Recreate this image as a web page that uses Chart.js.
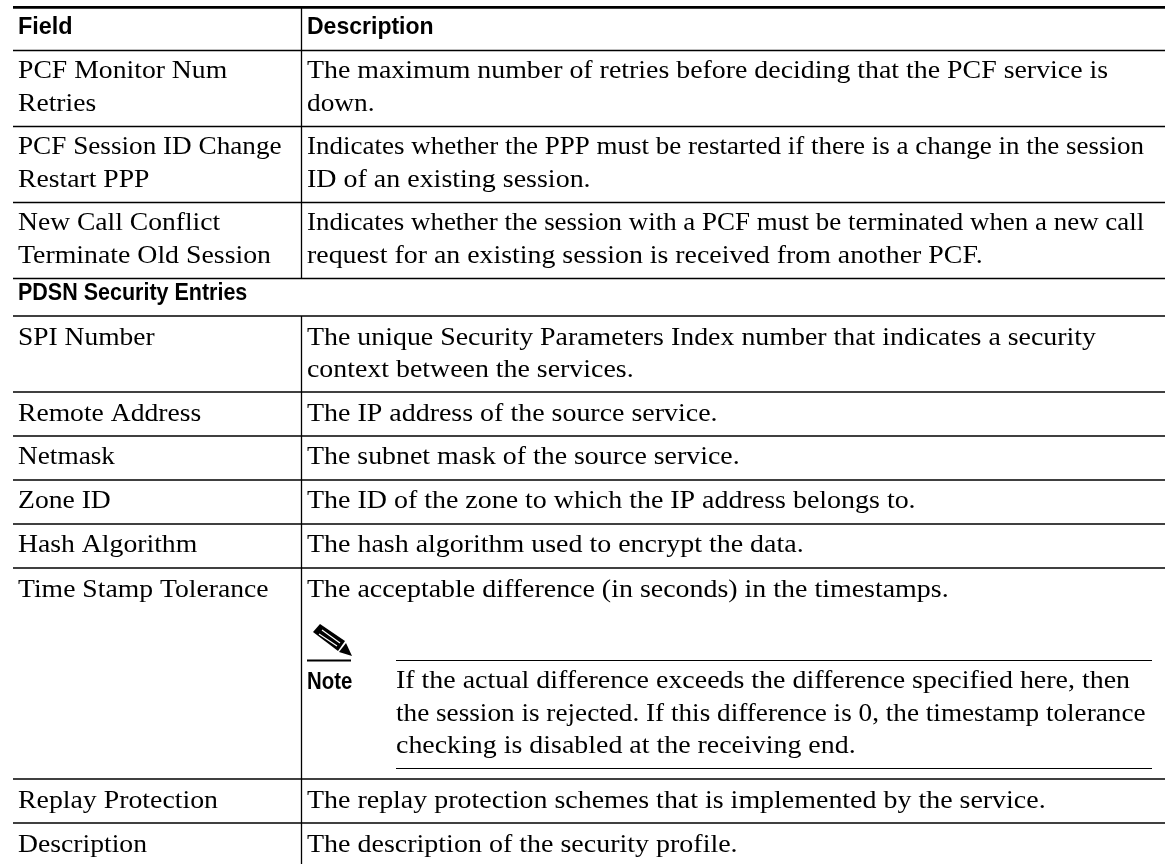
<!DOCTYPE html>
<html><head><meta charset="utf-8">
<style>html,body{margin:0;padding:0;background:#fff}canvas{display:block}</style>
<script src="https://cdn.jsdelivr.net/npm/chart.js@4"></script>
</head><body><canvas id="c" width="1166" height="864"></canvas>
<script>
const headerLabels = ["Field", "Description"];
const sectionLabels = ["PDSN Security Entries"];
const noteLabels = ["Note"];
const fieldLines = ["PCF Monitor Num","Retries","PCF Session ID Change","Restart PPP","New Call Conflict","Terminate Old Session","SPI Number","Remote Address","Netmask","Zone ID","Hash Algorithm","Time Stamp Tolerance","Replay Protection","Description"];
const descriptionLines = ["The maximum number of retries before deciding that the PCF service is","down.","Indicates whether the PPP must be restarted if there is a change in the session","ID of an existing session.","Indicates whether the session with a PCF must be terminated when a new call","request for an existing session is received from another PCF.","The unique Security Parameters Index number that indicates a security","context between the services.","The IP address of the source service.","The subnet mask of the source service.","The ID of the zone to which the IP address belongs to.","The hash algorithm used to encrypt the data.","The acceptable difference (in seconds) in the timestamps.","The replay protection schemes that is implemented by the service.","The description of the security profile."];
const noteLines = ["If the actual difference exceeds the difference specified here, then","the session is rejected. If this difference is 0, the timestamp tolerance","checking is disabled at the receiving end."];

// layout, in page units
const fieldBaselines = [78,111,154,187,230,263,345,421,464,508,552,597,808,852];
const fieldRights = [227,96,281,149,221,271,155,201,115,110,197,268,218,147];
const descriptionBaselines = [78,111,154,187,230,263,345,377,421,464,508,552,597,808,852];
const descriptionRights = [1108,373,1144,589,1144,981,1096,632,716,738,914,802,947,1044,736];
const noteBaselines = [688,721,753];
const noteRights = [1130,1145,854];
const rowRules = [50.5,126.5,202.5,278.5,316,392,436,480,524,568,779,823];
const L=13,R=1165,CX=301.5;
const lineSegs = [
  [[L,7.3],[R,7.3],2.8],
  ...rowRules.map(y=>[[L,y],[R,y],1.3]),
  [[CX,7],[CX,279],1.3],[[CX,316],[CX,864],1.3],
  [[396,660.5],[1152,660.5],1.2],[[396,768.5],[1152,768.5],1.2],
  [[307,660.5],[351,660.5],2]
];
const textPlugin={id:'tableText',afterDatasetsDraw(ch){
  const c=ch.ctx,xs=ch.scales.x,ys=ch.scales.y;
  const px=v=>xs.getPixelForValue(v),py=v=>ys.getPixelForValue(v);
  c.save();c.fillStyle='#000';c.textBaseline='alphabetic';c.textAlign='left';
  const fit=(t,x,y,right,font)=>{
    c.font=font;
    const m=c.measureText(t), k=(px(right)-px(x))/m.actualBoundingBoxRight;
    c.save();c.translate(px(x),py(y));c.scale(k,1);c.fillText(t,0,0);c.restore();
  };
  const SERIF='26px "Liberation Serif"', BOLD='bold 24px "Liberation Sans"';
  fieldLines.forEach((t,i)=>fit(t,18,fieldBaselines[i],fieldRights[i],SERIF));
  descriptionLines.forEach((t,i)=>fit(t,307,descriptionBaselines[i],descriptionRights[i],SERIF));
  noteLines.forEach((t,i)=>fit(t,396,noteBaselines[i],noteRights[i],SERIF));
  fit(headerLabels[0],18,34,72,BOLD);fit(headerLabels[1],307,34,433,BOLD);
  fit(sectionLabels[0],18,300,247,BOLD);fit(noteLabels[0],307,689,352,BOLD);
  // pencil icon
  const poly=(pts,col)=>{c.fillStyle=col;c.beginPath();pts.forEach((p,i)=>i?c.lineTo(px(p[0]),py(p[1])):c.moveTo(px(p[0]),py(p[1])));c.closePath();c.fill();};
  poly([[313,632],[320,624],[345,641],[338,651]],'#000');
  poly([[346,643],[339,652],[352,656]],'#000');
  c.strokeStyle='#fff';c.lineWidth=1.2;
  [[[322,630],[340,643]],[[319,634],[337,646]]].forEach(s=>{c.beginPath();c.moveTo(px(s[0][0]),py(s[0][1]));c.lineTo(px(s[1][0]),py(s[1][1]));c.stroke();});
  c.restore();
}};
new Chart(document.getElementById('c'),{type:'scatter',
  data:{datasets:lineSegs.map(s=>({data:[{x:s[0][0],y:s[0][1]},{x:s[1][0],y:s[1][1]}],showLine:true,borderColor:'#000',borderWidth:s[2],pointRadius:0,tension:0}))},
  options:{responsive:false,animation:false,events:[],layout:{padding:0},
    plugins:{legend:{display:false},tooltip:{enabled:false},title:{display:false}},
    scales:{x:{type:'linear',min:0,max:1166,display:false},y:{type:'linear',min:0,max:864,reverse:true,display:false}}},
  plugins:[textPlugin]});
</script></body></html>
